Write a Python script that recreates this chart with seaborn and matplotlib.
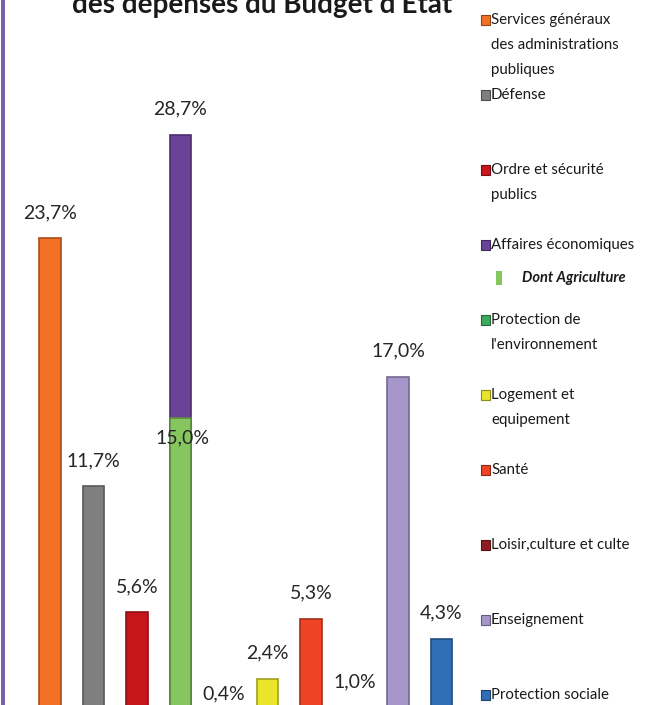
import numpy as np
import pandas as pd
import matplotlib
matplotlib.use("Agg")
import matplotlib.pyplot as plt
import matplotlib.colors as mcolors
from matplotlib.patches import Rectangle
import seaborn as sns

# ---------------- data ----------------
categories = ["Services généraux des administrations publiques", "Défense",
              "Ordre et sécurité publics", "Affaires économiques",
              "Protection de l'environnement", "Logement et equipement",
              "Santé", "Loisir,culture et culte", "Enseignement",
              "Protection sociale"]
values = [23.7, 11.7, 5.6, 28.7, 0.4, 2.4, 5.3, 1.0, 17.0, 4.3]
value_labels = ["23,7%", "11,7%", "5,6%", "28,7%", "0,4%", "2,4%",
                "5,3%", "1,0%", "17,0%", "4,3%"]
agri_category = "Affaires économiques"
agri_value = 15.0
agri_label = "15,0%"
legend_labels = ["Services généraux\ndes administrations\npubliques", "Défense",
                 "Ordre et sécurité\npublics", "Affaires économiques",
                 "Protection de\nl'environnement", "Logement et\nequipement",
                 "Santé", "Loisir,culture et culte", "Enseignement",
                 "Protection sociale"]
agri_legend = "Dont Agriculture"
title = "des dépenses du Budget d'Etat"

colors = ["#F37124", "#7F7F81", "#C8161D", "#6A4399", "#3DAA5C", "#E8E52A",
          "#EE4324", "#8E1C22", "#A796C9", "#2F6DB5"]
agri_color = "#86C65E"


def darker(c, f=0.7):
    r, g, b = mcolors.to_rgb(c)
    return (r * f, g * f, b * f)


# ---------------- figure ----------------
sns.set_theme(style="white")
plt.rcParams["font.family"] = ["Lato", "DejaVu Sans"]
W, H = 645, 705
fig = plt.figure(figsize=(W / 100, H / 100), dpi=100)
fig.patch.set_facecolor("white")

ax = fig.add_axes([0, 0, 470 / W, 1])
df = pd.DataFrame({"cat": categories, "val": values})
sns.barplot(data=df, x="cat", y="val", hue="cat", order=categories,
            hue_order=categories, palette=colors, width=0.5, legend=False,
            saturation=1, ax=ax)
df2 = pd.DataFrame({"cat": categories,
                    "val": [agri_value if c == agri_category else 0.0 for c in categories]})
sns.barplot(data=df2, x="cat", y="val", order=categories, color=agri_color,
            width=0.5, saturation=1, ax=ax)

for p in ax.patches:
    p.set_edgecolor(darker(p.get_facecolor()))
    p.set_linewidth(1.2)

ax.set_xlim(-1.149, 9.655)
ax.set_ylim(1.12, 35.24)
ax.axis("off")

lab_color = "#262626"
for i, (v, t) in enumerate(zip(values, value_labels)):
    ax.annotate(t, xy=(i, v), xytext=(0, 26), textcoords="offset pixels",
                ha="center", va="center", fontsize=14, color=lab_color,
                annotation_clip=False)
ai = categories.index(agri_category)
ax.annotate(agri_label, xy=(ai, agri_value), xytext=(2, -20), textcoords="offset pixels",
            ha="center", va="center", fontsize=14, color=lab_color)

# ---------------- overlay: legend, title, border ----------------
ov = fig.add_axes([0, 0, 1, 1], facecolor="none")
ov.set_xlim(0, W)
ov.set_ylim(H, 0)
ov.axis("off")

ov.add_patch(Rectangle((1, 0), 4, H, color="#7E5FAA", lw=0))

ov.text(262, 13, title, ha="center", va="baseline", fontsize=20,
        fontweight="bold", color="#1a1a1a")

slot_y = [20, 95, 170, 245, 320, 395, 470, 545, 620, 695]
for lbl, col, y0 in zip(legend_labels, colors, slot_y):
    ov.add_patch(Rectangle((481, y0 - 5), 9, 10, facecolor=col,
                           edgecolor=darker(col, 0.6), lw=0.8))
    for j, line in enumerate(lbl.split("\n")):
        ov.text(491, y0 + 25 * j, line, ha="left", va="center",
                fontsize=10.8, color="#1a1a1a")

ov.add_patch(Rectangle((496, 271), 6, 14, facecolor=agri_color, lw=0))
ov.text(522, 278, agri_legend, ha="left", va="center", fontsize=10.5,
        fontweight="bold", fontstyle="italic", color="#1a1a1a")

fig.savefig("out.png", dpi=100)
